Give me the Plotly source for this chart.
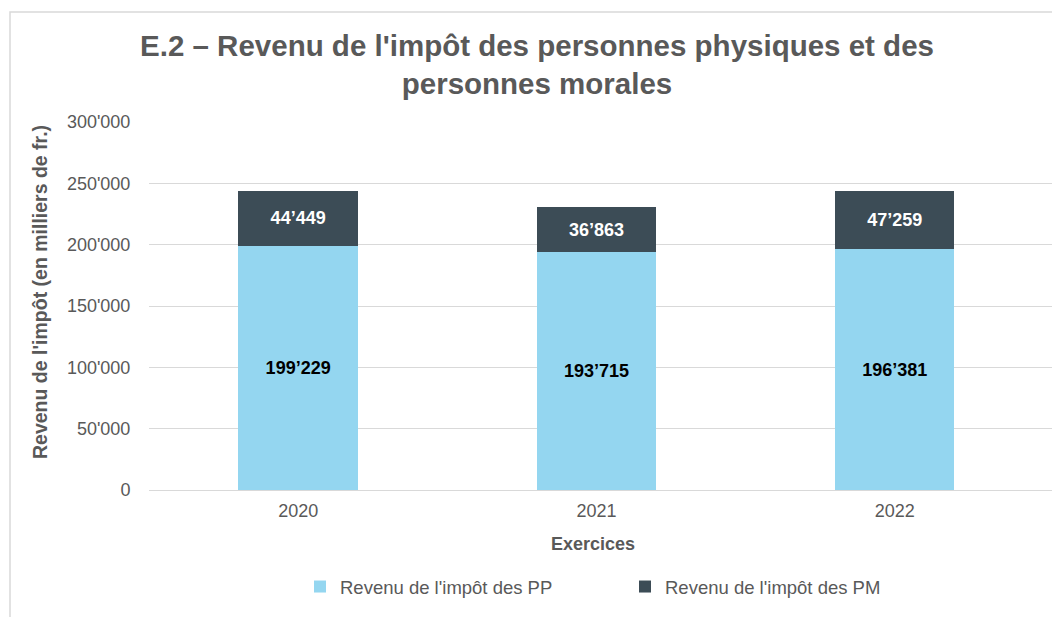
import plotly.graph_objects as go

years = ["2020", "2021", "2022"]
pp_values = [199229, 193715, 196381]
pm_values = [44449, 36863, 47259]
pp_labels = ["199’229", "193’715", "196’381"]
pm_labels = ["44’449", "36’863", "47’259"]
y_tickvals = [0, 50000, 100000, 150000, 200000, 250000, 300000]
y_ticktext = ["0", "50'000", "100'000", "150'000", "200'000", "250'000", "300'000"]

W, H = 1052, 617
L, R, T, B = 149, 0, 122, 127
pw = W - L - R
ph = H - T - B

FONT = "Liberation Sans, Arial, sans-serif"
GRAY = "#595959"
FS = 18

fig = go.Figure()
fig.add_trace(go.Bar(
    x=years, y=pp_values, name="Revenu de l'impôt des PP",
    marker=dict(color="#94D6F0", line=dict(width=0)),
    text=pp_labels, textposition="inside", insidetextanchor="middle",
    textfont=dict(family=FONT, size=FS, color="black", weight="bold"),
    width=0.40, hoverinfo="skip",
))
fig.add_trace(go.Bar(
    x=years, y=pm_values, name="Revenu de l'impôt des PM",
    marker=dict(color="#3C4C56", line=dict(width=0)),
    text=pm_labels, textposition="inside", insidetextanchor="middle",
    textfont=dict(family=FONT, size=FS, color="white", weight="bold"),
    width=0.40, hoverinfo="skip",
))

def px_x(x):
    return (x - L) / pw

def px_y(y):
    return (H - B - y) / ph

fig.update_layout(
    width=W, height=H,
    barmode="stack",
    margin=dict(l=L, r=R, t=T, b=B, autoexpand=False),
    paper_bgcolor="white", plot_bgcolor="white",
    font=dict(family=FONT, size=FS, color=GRAY),
    uniformtext=dict(mode=False),
    title=dict(
        text="E.2 – Revenu de l'impôt des personnes physiques et des<br>personnes morales",
        x=537 / W, xref="container", xanchor="center",
        y=1 - 56 / H, yref="container", yanchor="middle",
        font=dict(family=FONT, size=29.5, color=GRAY, weight="bold"),
    ),
    xaxis=dict(
        type="category", range=[-0.5, 2.527],
        showgrid=False, showline=False, zeroline=False,
        ticks="outside", ticklen=4, tickcolor="rgba(0,0,0,0)",
        tickfont=dict(family=FONT, size=FS, color=GRAY),
        automargin=False, fixedrange=True,
    ),
    yaxis=dict(
        range=[0, 300000], tickvals=y_tickvals, ticktext=y_ticktext,
        showgrid=True, gridcolor="#D9D9D9", gridwidth=1,
        zeroline=True, zerolinecolor="#D9D9D9", zerolinewidth=1,
        showline=False,
        ticks="outside", ticklen=14, tickcolor="rgba(0,0,0,0)",
        tickfont=dict(family=FONT, size=FS, color=GRAY),
        automargin=False, fixedrange=True,
    ),
    legend=dict(
        orientation="h", traceorder="normal",
        x=px_x(300), xanchor="left",
        y=px_y(587), yanchor="middle",
        entrywidth=280, entrywidthmode="pixels",
        font=dict(family=FONT, size=18.5, color=GRAY),
        bgcolor="rgba(0,0,0,0)",
    ),
    showlegend=True,
    annotations=[
        dict(text="<b>Revenu de l'impôt (en milliers de fr.)</b>",
             x=px_x(40), y=px_y(292), xref="paper", yref="paper",
             textangle=-90, showarrow=False,
             font=dict(family=FONT, size=19.5, color=GRAY),
             xanchor="center", yanchor="middle"),
        dict(text="<b>Exercices</b>",
             x=px_x(593), y=px_y(544), xref="paper", yref="paper",
             showarrow=False,
             font=dict(family=FONT, size=FS, color=GRAY),
             xanchor="center", yanchor="middle"),
    ],
    shapes=[
        dict(type="rect", xref="paper", yref="paper",
             x0=px_x(10), x1=px_x(1060), y0=px_y(640), y1=px_y(12),
             line=dict(color="#D9D9D9", width=1.5), fillcolor="rgba(0,0,0,0)",
             layer="below"),
    ],
)

fig.write_html(
    "out.html",
    config={"displayModeBar": False},
    post_script="document.body.style.margin='0';document.body.style.overflow='hidden';",
)
